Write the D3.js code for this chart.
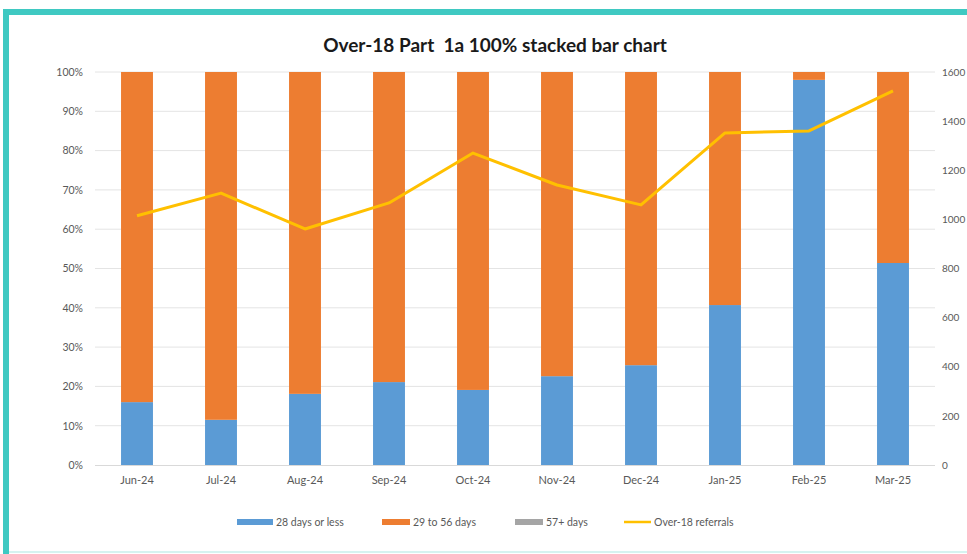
<!DOCTYPE html>
<html><head><meta charset="utf-8">
<script src="https://cdn.jsdelivr.net/npm/d3@7"></script>
<style>
html,body{margin:0;padding:0;background:#fff;overflow:hidden;}
svg{display:block;font-family:Lato,"Liberation Sans",sans-serif;}
</style></head>
<body>
<svg id="c" width="967" height="554"></svg>
<script>
const months = ["Jun-24","Jul-24","Aug-24","Sep-24","Oct-24","Nov-24","Dec-24","Jan-25","Feb-25","Mar-25"];
const days28OrLess = [0.160,0.115,0.181,0.211,0.191,0.226,0.254,0.407,0.980,0.514];
const days57Plus   = [0,0,0,0,0,0,0,0,0,0];
const days29to56   = days28OrLess.map((v,i)=>1 - v - days57Plus[i]);
const referrals    = [1015,1107,961,1067,1270,1140,1059,1352,1360,1523];
const pctTicks     = [0,0.1,0.2,0.3,0.4,0.5,0.6,0.7,0.8,0.9,1];
const countTicks   = [0,200,400,600,800,1000,1200,1400,1600];
const seriesNames  = ["28 days or less","29 to 56 days","57+ days","Over-18 referrals"];
const colors = {"28 days or less":"#5B9BD5","29 to 56 days":"#ED7D31","57+ days":"#A5A5A5","Over-18 referrals":"#FFC000"};

const svg = d3.select("#c");
// frame
svg.append("rect").attr("x",0).attr("y",0).attr("width",967).attr("height",554).attr("fill","#fff");
svg.append("rect").attr("x",6).attr("y",12).attr("width",980).attr("height",560)
  .attr("fill","#fff").attr("stroke","#3FC9C2").attr("stroke-width",6);
svg.append("rect").attr("x",9).attr("y",15).attr("width",980).attr("height",535).attr("fill","#fff");
svg.append("line").attr("x1",9).attr("x2",967).attr("y1",552).attr("y2",552).attr("stroke","#d6f3f0").attr("stroke-width",2);

const L=95,R=935,T=72,B=465;
const x = d3.scaleBand().domain(months).range([L,R]).paddingInner(0.62).paddingOuter(0.31);
const y = d3.scaleLinear().domain([0,1]).range([B,T]);
const y2 = d3.scaleLinear().domain([0,1600]).range([B,T]);

// gridlines
svg.append("g").selectAll("line").data(pctTicks.slice(1)).join("line")
  .attr("x1",L).attr("x2",R).attr("y1",d=>y(d)).attr("y2",d=>y(d))
  .attr("stroke","#e4e4e4").attr("stroke-width",1);

// left axis
const ya = svg.append("g").attr("transform",`translate(${L-12},0)`)
  .call(d3.axisLeft(y).tickValues(pctTicks).tickFormat(d3.format(".0%")).tickSize(0).tickPadding(0));
ya.select(".domain").remove();
ya.selectAll("text").attr("fill","#595959").style("font-size","10.5px").style("font-family","Lato");

// right axis
const yb = svg.append("g").attr("transform",`translate(${R+7},0)`)
  .call(d3.axisRight(y2).tickValues(countTicks).tickFormat(d3.format("d")).tickSize(0).tickPadding(0));
yb.select(".domain").remove();
yb.selectAll("text").attr("fill","#595959").style("font-size","10px").style("font-family","Lato");

// stacked bars
const rows = months.map((m,i)=>({month:m,"28 days or less":days28OrLess[i],"29 to 56 days":days29to56[i],"57+ days":days57Plus[i]}));
const stack = d3.stack().keys(seriesNames.slice(0,3))(rows);
svg.append("g").selectAll("g").data(stack).join("g").attr("fill",d=>colors[d.key])
  .selectAll("rect").data(d=>d).join("rect")
  .attr("x",d=>x(d.data.month)).attr("width",x.bandwidth())
  .attr("y",d=>y(d[1])).attr("height",d=>Math.max(0,y(d[0])-y(d[1])));

// x axis
svg.append("line").attr("x1",L).attr("x2",R).attr("y1",B+0.5).attr("y2",B+0.5).attr("stroke","#d9d9d9");
const xa = svg.append("g").attr("transform",`translate(0,${B})`)
  .call(d3.axisBottom(x).tickSize(0).tickPadding(11));
xa.select(".domain").remove();
xa.selectAll("text").attr("fill","#595959").style("font-size","11px").style("font-family","Lato");

// line
svg.append("path").datum(referrals)
  .attr("fill","none").attr("stroke",colors["Over-18 referrals"]).attr("stroke-width",3).attr("stroke-linejoin","round")
  .attr("d",d3.line().x((d,i)=>x(months[i])+x.bandwidth()/2).y(d=>y2(d)));

// title
svg.append("text").attr("x",495).attr("y",52).attr("text-anchor","middle")
  .style("font-size","19px").style("font-weight","bold").style("white-space","pre").attr("fill","#1a1a1a")
  .text("Over-18 Part  1a 100% stacked bar chart");

// legend
const legendX = [237,382,515,624];
const lg = svg.append("g");
seriesNames.forEach((s,i)=>{
  const g = lg.append("g").attr("transform",`translate(${legendX[i]},522)`);
  if(i<3){
    g.append("rect").attr("x",0).attr("y",-3).attr("width",i===0?36:28).attr("height",6).attr("fill",colors[s]);
  } else {
    g.append("line").attr("x1",0).attr("x2",27).attr("y1",0).attr("y2",0).attr("stroke",colors[s]).attr("stroke-width",2.5);
  }
  g.append("text").attr("x",i===0?39:(i===3?30:31)).attr("y",3.5).style("font-size","10.5px").attr("fill","#595959").text(s);
});
</script>
</body></html>
